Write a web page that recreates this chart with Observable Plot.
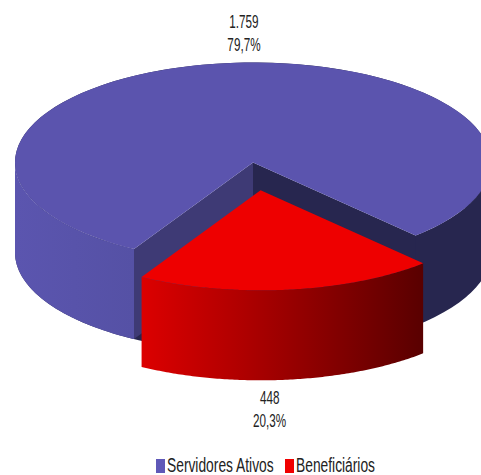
<!DOCTYPE html>
<html><head><meta charset="utf-8">
<script src="https://cdn.jsdelivr.net/npm/d3@7"></script>
<script src="https://cdn.jsdelivr.net/npm/@observablehq/plot@0.6"></script>
<style>
html,body{margin:0;padding:0;background:#fff;overflow:hidden}
#chart svg{display:block}
#legend{display:flex;height:23px;align-items:center;font:20px "Liberation Sans",sans-serif;color:#222;padding-left:156px;margin-top:5px}
#legend i{display:inline-block;width:8.5px;height:14px;margin-right:2.5px;flex:none}
#legend span{display:inline-block;white-space:nowrap;transform:scaleX(.69);transform-origin:left center}
</style></head><body>
<div id="chart"></div><div id="legend"></div>
<script>
const categories = ["Servidores Ativos", "Beneficiários"];
const values = [1759, 448];
const valueLabels = ["1.759", "448"];
const shareLabels = ["79,7%", "20,3%"];
const colors = ["#5b54ae", "#ee0000"];

const rad = Math.PI / 180;
const depth = 0.9, explode = 0.28;
const slices = d3.pie().sort(null).startAngle(210 * rad).endAngle(570 * rad)(values);
const [blue, red] = slices;
const mid = (red.startAngle + red.endAngle) / 2;
const ox = explode * Math.sin(mid), oy = -explode * Math.cos(mid);

const pt = (a, dx = 0, dy = 0) => ({x: Math.sin(a) + dx, y: -Math.cos(a) + dy});
const arc = (a0, a1, dx = 0, dy = 0) =>
  d3.range(0, 121).map(i => pt(a0 + (a1 - a0) * i / 120, dx, dy));
const wall = (a0, a1, dx = 0, dy = 0) =>
  [...arc(a0, a1, dx, dy), ...arc(a1, a0, dx, dy + depth)];
const quad = (a) => [{x: 0, y: 0}, pt(a), pt(a, 0, depth), {x: 0, y: depth}];

const face = (pts, fill) => Plot.line(pts, {x: "x", y: "y", fill, stroke: "none", curve: "linear-closed"});

const defs = () => d3.create("svg:defs").html(`
  <linearGradient id="blueWall" x1="0" x2="1" y1="0" y2="0">
    <stop offset="0" stop-color="#5b55af"/><stop offset="1" stop-color="#5551a5"/>
  </linearGradient>
  <linearGradient id="redWall" x1="0" x2="1" y1="0" y2="0">
    <stop offset="0" stop-color="#dc0000"/><stop offset="0.35" stop-color="#b00000"/><stop offset="1" stop-color="#590000"/>
  </linearGradient>`).node();

const chart = Plot.plot({
  width: 481, height: 449, margin: 0,
  x: {type: "linear", domain: [-1, 1], range: [14.5, 490.5], axis: null},
  y: {type: "linear", domain: [-1, 1], range: [62, 262], axis: null},
  marks: [
    defs,
    face(wall(90 * rad, blue.endAngle), "#27264f"),
    face(quad(blue.endAngle), "#27264f"),
    face(quad(blue.startAngle), "#3e3a75"),
    face(wall(blue.startAngle, 270 * rad), "url(#blueWall)"),
    face([{x: 0, y: 0}, ...arc(blue.startAngle, blue.endAngle)], colors[0]),
    face(wall(red.startAngle, red.endAngle, ox, oy), "url(#redWall)"),
    face([{x: ox, y: oy}, ...arc(red.startAngle, red.endAngle, ox, oy)], colors[1]),
    Plot.text([0, 1], {
      x: i => i === 0 ? -0.038 : 0.07,
      y: i => i === 0 ? -1.305 : 2.455,
      text: i => valueLabels[i] + "\n" + shareLabels[i],
      fontFamily: '"Liberation Sans",sans-serif',
      fontSize: 18, lineHeight: 1.28, fill: "#222", textAnchor: "middle",
      className: "pie-label"
    })
  ]
});
document.getElementById("chart").append(chart);
chart.querySelectorAll(".pie-label text").forEach(t => {
  t.setAttribute("transform", (t.getAttribute("transform") || "") + " scale(.65,1)");
});
const legend = document.getElementById("legend");
const slotWidths = [118, 80];
categories.forEach((c, i) => {
  const sw = document.createElement("i");
  sw.style.background = i === 0 ? "#5f58b8" : "#f00000";
  const s = document.createElement("span");
  s.style.width = slotWidths[i] + "px";
  s.textContent = c;
  legend.append(sw, s);
});
</script></body></html>
